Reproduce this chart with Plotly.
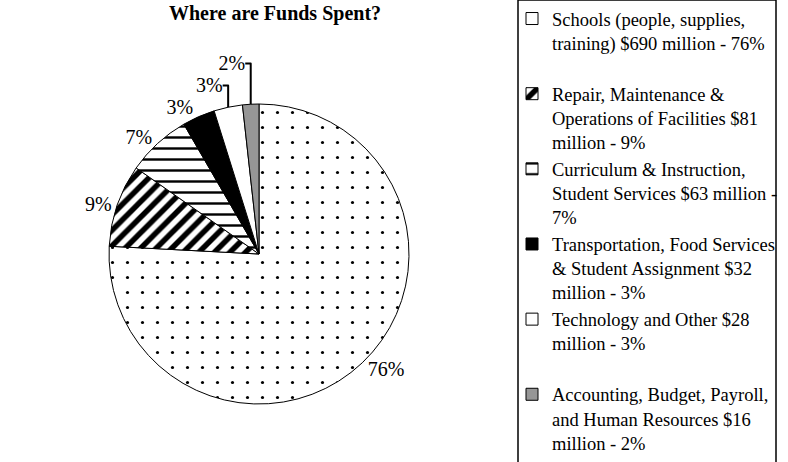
import plotly.graph_objects as go

categories = [
    "Schools (people, supplies,<br>training) $690 million - 76%<br>\u00a0",
    "Repair, Maintenance &<br>Operations of Facilities $81<br>million - 9%",
    "Curriculum & Instruction,<br>Student Services $63 million -<br>7%",
    "Transportation, Food Services<br>& Student Assignment $32<br>million - 3%",
    "Technology and Other $28<br>million - 3%<br>\u00a0",
    "Accounting, Budget, Payroll,<br>and Human Resources $16<br>million - 2%",
]
amounts = [690, 81, 63, 32, 28, 16]          # $ millions
percents = [76, 9, 7, 3, 3, 2]               # shown labels
fill_colors = ["white", "white", "white", "black", "white", "#969696"]
pattern_shapes = [".", "/", "-", "", "", ""]
pattern_sizes = [15, 11, 11, 8, 8, 8]
pattern_solidity = [0.035, 0.5, 0.22, 0.3, 0.3, 0.3]

FONT = "Times New Roman, Liberation Serif, serif"
W, H = 788, 462

fig = go.Figure(go.Pie(
    labels=categories,
    values=amounts,
    text=[f"{p}%" for p in percents],
    textinfo="text",
    textposition="outside",
    sort=False,
    direction="clockwise",
    rotation=0,
    marker=dict(
        colors=fill_colors,
        line=dict(color="black", width=1),
        pattern=dict(shape=pattern_shapes, size=pattern_sizes,
                     solidity=pattern_solidity, fgcolor="black",
                     fgopacity=1, fillmode="overlay"),
    ),
    outsidetextfont=dict(family=FONT, size=20, color="black"),
    domain=dict(x=[109 / W, 409 / W], y=[58 / H, 358 / H]),
    hoverinfo="label+value+percent",
))

fig.update_layout(
    width=W, height=H,
    margin=dict(l=0, r=0, t=0, b=0),
    paper_bgcolor="white",
    font=dict(family=FONT, size=18.5, color="black"),
    showlegend=True,
    legend=dict(
        x=512 / W, xanchor="left", y=1, yanchor="top",
        borderwidth=0, bgcolor="rgba(0,0,0,0)",
        font=dict(family=FONT, size=18.5, color="black"),
        valign="top",
    ),
    shapes=[dict(
        type="rect", xref="paper", yref="paper",
        x0=518 / W, x1=776 / W, y0=-0.05, y1=1.0,
        line=dict(color="black", width=1.5), fillcolor="rgba(0,0,0,0)",
        layer="below",
    )],
    annotations=[dict(
        text="<b>Where are Funds Spent?</b>", x=275 / W, xref="paper",
        y=1, yref="paper", yanchor="top", xanchor="center", showarrow=False,
        font=dict(family=FONT, size=20, color="black"), yshift=0,
    )],
)

fig.write_html("out.html")
